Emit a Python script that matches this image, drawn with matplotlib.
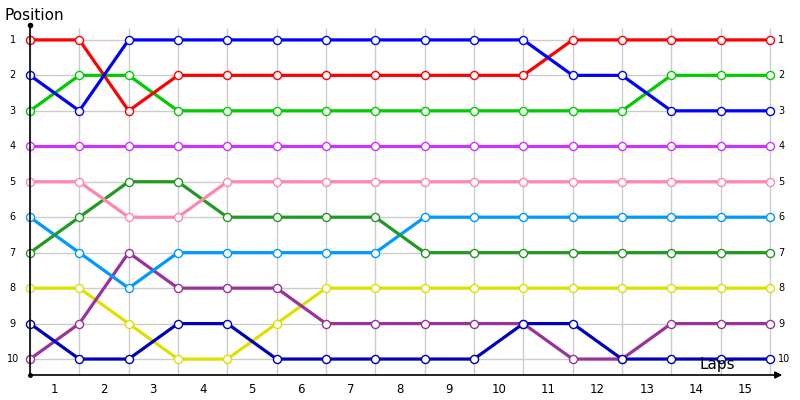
import matplotlib.pyplot as plt

# positions per driver at each lap mark (16 marks, laps 1..15 between them)
red = [1, 1, 3, 2, 2, 2, 2, 2, 2, 2, 2, 1, 1, 1, 1, 1]
blue = [2, 3, 1, 1, 1, 1, 1, 1, 1, 1, 1, 2, 2, 3, 3, 3]
green = [3, 2, 2, 3, 3, 3, 3, 3, 3, 3, 3, 3, 3, 2, 2, 2]
violet = [4, 4, 4, 4, 4, 4, 4, 4, 4, 4, 4, 4, 4, 4, 4, 4]
pink = [5, 5, 6, 6, 5, 5, 5, 5, 5, 5, 5, 5, 5, 5, 5, 5]
dkgreen = [7, 6, 5, 5, 6, 6, 6, 6, 7, 7, 7, 7, 7, 7, 7, 7]
skyblue = [6, 7, 8, 7, 7, 7, 7, 7, 6, 6, 6, 6, 6, 6, 6, 6]
yellow = [8, 8, 9, 10, 10, 9, 8, 8, 8, 8, 8, 8, 8, 8, 8, 8]
purple = [10, 9, 7, 8, 8, 8, 9, 9, 9, 9, 9, 10, 10, 9, 9, 9]
dkblue = [9, 10, 10, 9, 9, 10, 10, 10, 10, 10, 9, 9, 10, 10, 10, 10]

series = [yellow, purple, dkblue, skyblue, dkgreen, pink, violet, green, red, blue]
colors = ['#e0e000', '#993399', '#0000bb', '#0099ff', '#229922', '#ff88aa',
          '#cc33ff', '#00cc00', '#ff0000', '#0000ff']

laps = list(range(1, 16))
marks = list(range(16))
positions = list(range(1, 11))

fig = plt.figure(figsize=(8, 4), dpi=100)
ax = fig.add_axes([30/800, 25/400, 750/800, 350/400])
ax.set_xlim(0, 750/49.33)
ax.set_ylim(10.45, 0.58)
for s in ax.spines.values():
    s.set_visible(False)
ax.set_xticks([])
ax.set_yticks([])

# grid
ax.vlines(marks, 0.66, 10.45, color='#cccccc', lw=1, zorder=0)
ax.hlines(positions, 0, 15, color='#cccccc', lw=1, zorder=0)

for ys, c in zip(series, colors):
    ax.plot(marks, ys, color=c, lw=2.3, marker='o', markersize=5.8,
            markerfacecolor='white', markeredgecolor=c, markeredgewidth=1.0,
            clip_on=False, zorder=3)

# axes lines
ax.plot([0, 0], [0.58, 10.45], color='black', lw=1.2, clip_on=False, zorder=4)
ax.plot([0], [0.58], 'o', color='black', ms=3, clip_on=False, zorder=4)
ax.plot([0], [10.45], 'o', color='black', ms=2.5, clip_on=False, zorder=4)
ax.annotate('', xy=(15.25, 10.45), xytext=(0, 10.45),
            arrowprops=dict(arrowstyle='-|>', color='black', lw=1.2,
                            mutation_scale=10, shrinkA=0, shrinkB=0),
            annotation_clip=False, zorder=4)

for p in positions:
    ax.text(-0.35, p, str(p), ha='center', va='center', fontsize=7, clip_on=False)
    ax.text(15.17, p, str(p), ha='left', va='center', fontsize=7, clip_on=False)
for lap in laps:
    ax.text(lap - 0.5, 10.85, str(lap), ha='center', va='center', fontsize=8.5,
            clip_on=False)

fig.text(5/800, 1 - 15/400, 'Position', ha='left', va='center', fontsize=11)
ax.text(14.3, 10.15, 'Laps', ha='right', va='center', fontsize=11, zorder=5)

fig.savefig('out.png', dpi=100)
